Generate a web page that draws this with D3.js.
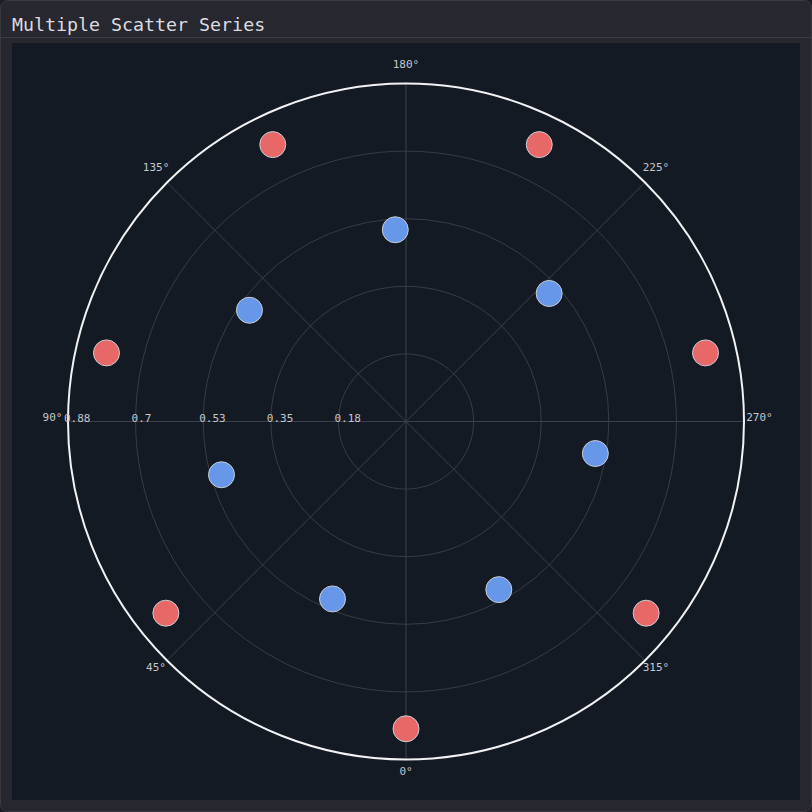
<!DOCTYPE html>
<html>
<head>
<meta charset="utf-8">
<script src="https://cdn.jsdelivr.net/npm/d3@7"></script>
<style>
  html, body { margin: 0; padding: 0; background: #1c1c22; }
  body { width: 812px; height: 812px; overflow: hidden; }
  text { font-family: "DejaVu Sans Mono", "Liberation Mono", monospace; }
</style>
</head>
<body>
<svg id="chart" width="812" height="812"></svg>
<script>
// chart values
const TITLE = "Multiple Scatter Series";
const redTheta = [0, 51.4, 102.9, 154.3, 205.7, 257.1, 308.6];
const redR = [0.8, 0.8, 0.8, 0.8, 0.8, 0.8, 0.8];
const blueTheta = [22.5, 73.9, 125.4, 176.8, 228.2, 279.6, 331.1];
const blueR = [0.5, 0.5, 0.5, 0.5, 0.5, 0.5, 0.5];
const radialTicks = [0.176, 0.352, 0.528, 0.704, 0.88];
const angleTicks = [0, 45, 90, 135, 180, 225, 270, 315];
const R_MAX = 0.88;

const series = [
    { name: "red", color: "#e86868", theta: redTheta, r: redR },
    { name: "blue", color: "#6797e8", theta: blueTheta, r: blueR }
];

const svg = d3.select("#chart");

// panel frame
svg.append("rect")
    .attr("x", 0.5).attr("y", 0.5)
    .attr("width", 811).attr("height", 811)
    .attr("rx", 7)
    .attr("fill", "#27272f")
    .attr("stroke", "#393941");

svg.append("line")
    .attr("x1", 1).attr("x2", 811)
    .attr("y1", 37.5).attr("y2", 37.5)
    .attr("stroke", "#3c3c44");

svg.append("text")
    .attr("x", 12)
    .attr("y", 31)
    .attr("font-size", 18.3)
    .attr("fill", "#dcdce0")
    .text(TITLE);

// plot area
const plot = { x: 12, y: 43, w: 788, h: 757 };
svg.append("rect")
    .attr("x", plot.x).attr("y", plot.y)
    .attr("width", plot.w).attr("height", plot.h)
    .attr("fill", "#141a24");

const cx = plot.x + plot.w / 2;
const cy = plot.y + plot.h / 2;
const outer = 338;

const rScale = d3.scaleLinear().domain([0, R_MAX]).range([0, outer]);

// 0 deg at the bottom, going clockwise through the left side
const toXY = (deg, rad) => {
    const a = deg * Math.PI / 180;
    return [cx - rad * Math.sin(a), cy + rad * Math.cos(a)];
};

const g = svg.append("g");

// rings
g.selectAll("circle.ring")
    .data(radialTicks.slice(0, -1))
    .enter()
    .append("circle")
        .attr("class", "ring")
        .attr("cx", cx).attr("cy", cy)
        .attr("r", d => rScale(d))
        .attr("fill", "none")
        .attr("stroke", "#363b46")
        .attr("stroke-width", 1);

// spokes
g.selectAll("line.spoke")
    .data(angleTicks)
    .enter()
    .append("line")
        .attr("class", "spoke")
        .attr("x1", cx).attr("y1", cy)
        .attr("x2", d => toXY(d, outer)[0])
        .attr("y2", d => toXY(d, outer)[1])
        .attr("stroke", "#3a3f4a")
        .attr("stroke-width", 1);

// outer circle
g.append("circle")
    .attr("cx", cx).attr("cy", cy)
    .attr("r", rScale(R_MAX))
    .attr("fill", "none")
    .attr("stroke", "#f2f2f5")
    .attr("stroke-width", 2);

// radial tick labels along the 90 deg axis
g.selectAll("text.rtick")
    .data(radialTicks)
    .enter()
    .append("text")
        .attr("class", "rtick")
        .attr("x", d => toXY(90, rScale(d))[0] - 4)
        .attr("y", cy)
        .attr("font-size", 11)
        .attr("fill", "#c4c6cc")
        .text(d => d3.format(".2~f")(d));

// angle labels
g.selectAll("text.atick")
    .data(angleTicks)
    .enter()
    .append("text")
        .attr("class", "atick")
        .attr("x", d => toXY(d, outer + 15.5)[0])
        .attr("y", d => toXY(d, outer + 15.5)[1] - 4)
        .attr("dy", "0.35em")
        .attr("text-anchor", "middle")
        .attr("font-size", 11)
        .attr("fill", "#c4c6cc")
        .text(d => d + "°");

// scatter points
series.forEach(s => {
    const pts = s.theta.map((t, i) => ({ theta: t, r: s.r[i] }));
    g.selectAll("circle.pt-" + s.name)
        .data(pts)
        .enter()
        .append("circle")
            .attr("class", "pt-" + s.name)
            .attr("cx", d => toXY(d.theta, rScale(d.r))[0])
            .attr("cy", d => toXY(d.theta, rScale(d.r))[1])
            .attr("r", 13)
            .attr("fill", s.color)
            .attr("stroke", "#c8ccd4")
            .attr("stroke-width", 1);
});
</script>
</body>
</html>
